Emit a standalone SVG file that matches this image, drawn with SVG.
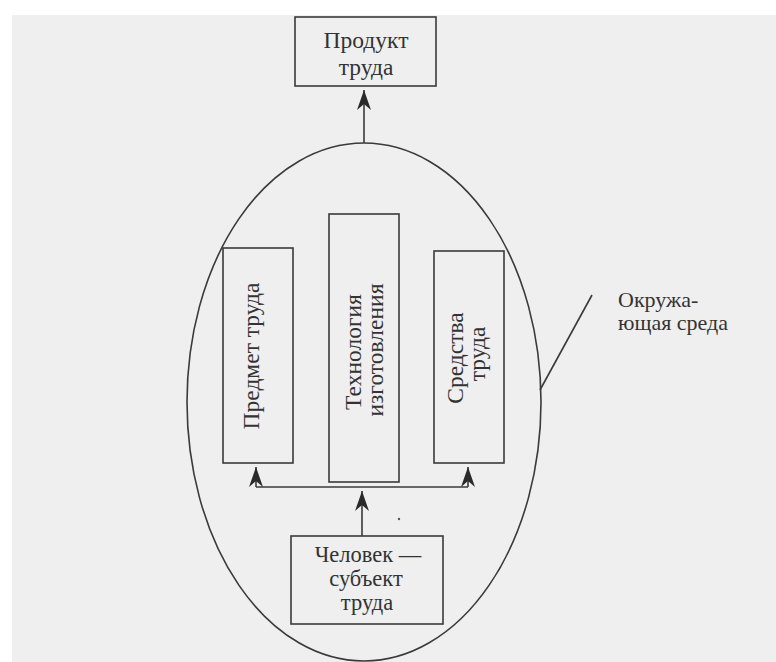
<svg xmlns="http://www.w3.org/2000/svg" width="776" height="662" viewBox="0 0 776 662">
  <style>
    .box { fill: none; stroke: #3a3a3a; stroke-width: 1.6; }
    .edge { fill: none; stroke: #3a3a3a; stroke-width: 1.6; }
    .lbl { font-family: "Liberation Serif", "Times New Roman", serif; font-size: 23.5px; fill: #333333; text-anchor: middle; }
    .lbl-s { font-size: 22.5px; }
    .note { font-family: "Liberation Serif", "Times New Roman", serif; font-size: 22px; fill: #333333; }
  </style>
  <defs>
    <!-- barbed arrowhead, tip at the line end -->
    <marker id="barb" viewBox="-21 -8 22 16" refX="0" refY="0" markerWidth="22" markerHeight="16" markerUnits="userSpaceOnUse" orient="auto">
      <path d="M0,0 L-20,-7 L-14,0 L-20,7 Z" fill="#2a2a2a"/>
    </marker>
  </defs>

  <!-- page -->
  <rect x="0" y="0" width="776" height="662" fill="#ffffff"/>
  <rect x="12" y="15" width="764" height="647" fill="#efefef"/>

  <!-- work environment boundary -->
  <g id="environment">
    <ellipse cx="364" cy="402" rx="177" ry="259" class="box"/>
  </g>

  <g id="product">
    <rect x="295" y="17" width="141" height="69" class="box"/>
    <text class="lbl" x="366" y="48">Продукт</text>
    <text class="lbl" x="366" y="75">труда</text>
  </g>

  <g id="object">
    <rect x="223" y="248" width="70" height="215" class="box"/>
    <text class="lbl" transform="translate(259,356) rotate(-90)">Предмет труда</text>
  </g>

  <g id="technology">
    <rect x="329" y="214" width="70" height="268" class="box"/>
    <text class="lbl" transform="translate(361,352) rotate(-90)">Технология</text>
    <text class="lbl" transform="translate(383,350) rotate(-90)">изготовления</text>
  </g>

  <g id="means">
    <rect x="434" y="251" width="70" height="212" class="box"/>
    <text class="lbl" transform="translate(463,358) rotate(-90)">Средства</text>
    <text class="lbl" transform="translate(485,354) rotate(-90)">труда</text>
  </g>

  <g id="worker">
    <rect x="291" y="536" width="152" height="88" class="box"/>
    <text class="lbl lbl-s" x="368" y="562">Человек —</text>
    <text class="lbl lbl-s" x="366" y="586">субъект</text>
    <text class="lbl lbl-s" x="367" y="610">труда</text>
  </g>

  <g id="environment-label">
    <text class="note" x="618" y="307">Окружа-</text>
    <text class="note" x="618" y="330">ющая среда</text>
  </g>

  <g id="connectors">
    <!-- worker to the production triad -->
    <line x1="362" y1="536" x2="362" y2="491" class="edge" marker-end="url(#barb)"/>
    <line x1="256" y1="487" x2="468" y2="487" class="edge"/>
    <line x1="256" y1="487" x2="256" y2="467" class="edge" marker-end="url(#barb)"/>
    <line x1="468" y1="487" x2="468" y2="467" class="edge" marker-end="url(#barb)"/>
    <!-- process result -->
    <line x1="364" y1="143" x2="364" y2="90" class="edge" marker-end="url(#barb)"/>
    <!-- leader to the environment label -->
    <line x1="540" y1="390" x2="592" y2="295" class="edge"/>
  </g>

  <circle cx="399" cy="519" r="1.2" fill="#555"/>
</svg>
